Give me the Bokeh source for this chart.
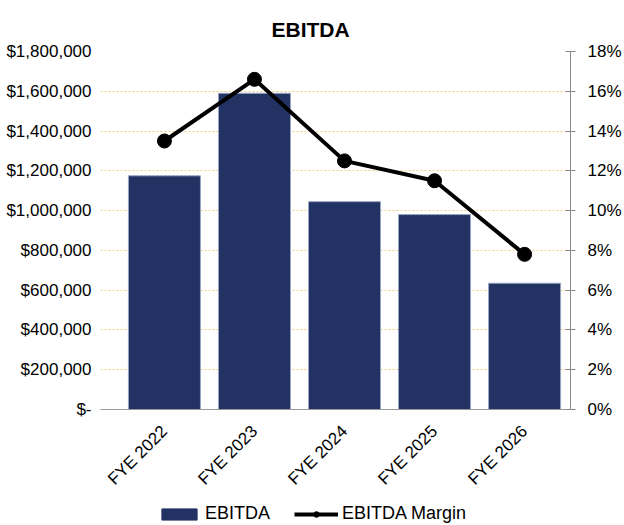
import math
from bokeh.plotting import figure
from bokeh.layouts import column
from bokeh.models import (Range1d, LinearAxis, FixedTicker, NumeralTickFormatter,
                          Legend, LegendItem, ColumnDataSource)
from bokeh.embed import file_html
from bokeh.resources import INLINE

categories = ["FYE 2022", "FYE 2023", "FYE 2024", "FYE 2025", "FYE 2026"]
ebitda = [1175000, 1590000, 1045000, 980000, 635000]
margin = [0.135, 0.166, 0.125, 0.115, 0.078]
left_ticks = [0, 200000, 400000, 600000, 800000, 1000000, 1200000, 1400000, 1600000, 1800000]
right_ticks = [0, 0.02, 0.04, 0.06, 0.08, 0.10, 0.12, 0.14, 0.16, 0.18]

FONT = "Liberation Sans"
BAR_FILL = "#213263"
BAR_LINE = "#9AA6C4"
idx = list(range(len(categories)))
src = ColumnDataSource(dict(x=idx, ebitda=ebitda, margin=margin))

p = figure(width=624, height=500, output_backend="svg", toolbar_location=None,
           x_range=Range1d(-0.71, 4.51), y_range=Range1d(0, 1800000),
           min_border_left=100, min_border_right=53, min_border_top=51, min_border_bottom=91)
p.outline_line_color = None
p.background_fill_color = "white"
p.border_fill_color = "white"
p.extra_y_ranges = {"pct": Range1d(0, 0.18)}

p.title.text = "EBITDA"
p.title.text_font = FONT
p.title.text_font_size = "21px"
p.title.text_font_style = "bold"
p.title.text_color = "black"
p.title.align = "left"
p.title.offset = 171
p.title.standoff = 21

p.vbar(x="x", top="ebitda", width=0.8, source=src,
       fill_color=BAR_FILL, line_color=BAR_LINE, line_width=1)
p.line(x="x", y="margin", source=src, y_range_name="pct",
       line_color="black", line_width=4)
p.scatter(x="x", y="margin", source=src, y_range_name="pct",
          size=14, fill_color="black", line_color="black")

# axes
p.xaxis.ticker = FixedTicker(ticks=idx)
p.xaxis.major_label_overrides = {i: c for i, c in zip(idx, categories)}
p.xaxis.major_label_orientation = math.pi / 4
p.xaxis.major_label_text_font = FONT
p.xaxis.major_label_text_font_size = "17px"
p.xaxis.major_label_text_color = "black"
p.xaxis.major_tick_line_color = None
p.xaxis.minor_tick_line_color = None
p.xaxis.axis_line_color = "#999999"
p.xaxis.major_label_standoff = 13

p.yaxis.ticker = FixedTicker(ticks=left_ticks)
p.yaxis.formatter = NumeralTickFormatter(format="$0,0")
p.yaxis.major_label_overrides = {0: "$-"}
p.yaxis.major_label_text_font = FONT
p.yaxis.major_label_text_font_size = "17px"
p.yaxis.major_label_text_color = "black"
p.yaxis.axis_line_color = None
p.yaxis.major_tick_line_color = None
p.yaxis.minor_tick_line_color = None
p.yaxis.major_label_standoff = 3

ra = LinearAxis(y_range_name="pct", ticker=FixedTicker(ticks=right_ticks),
                formatter=NumeralTickFormatter(format="0%"))
ra.major_label_text_font = FONT
ra.major_label_text_font_size = "17px"
ra.major_label_text_color = "black"
ra.axis_line_color = "#888888"
ra.major_tick_line_color = "#888888"
ra.major_tick_in = 5
ra.major_tick_out = 5
ra.minor_tick_line_color = None
ra.major_label_standoff = 12
p.add_layout(ra, "right")

p.xgrid.grid_line_color = None
p.ygrid.ticker = FixedTicker(ticks=left_ticks[1:])
p.ygrid.grid_line_color = "#F5CC7E"
p.ygrid.grid_line_dash = "2 2"
p.ygrid.grid_line_width = 1

# legend strip: same series, drawn outside its visible range so only the legend shows
lg = figure(width=624, height=25, output_backend="svg", toolbar_location=None,
            x_range=Range1d(-0.71, 4.51), y_range=Range1d(5e6, 6e6),
            x_axis_type=None, y_axis_type=None,
            min_border_left=0, min_border_right=0, min_border_top=0, min_border_bottom=0)
lg.outline_line_color = None
lg.xgrid.grid_line_color = None
lg.ygrid.grid_line_color = None
lb = lg.vbar(x="x", top="ebitda", width=0.8, source=src,
             fill_color=BAR_FILL, line_color=BAR_FILL, line_width=1)
ll = lg.line(x="x", y="margin", source=src, line_color="black", line_width=4)
ls = lg.scatter(x="x", y="margin", source=src, size=8, fill_color="black", line_color="black")

legend = Legend(items=[LegendItem(label="EBITDA", renderers=[lb]),
                       LegendItem(label="EBITDA Margin", renderers=[ll, ls])],
                orientation="horizontal", location=(57, 1),
                border_line_color=None, background_fill_alpha=0,
                label_text_font=FONT, label_text_font_size="18px",
                label_text_color="black",
                glyph_width=44, glyph_height=14, spacing=24, padding=0, margin=0,
                label_standoff=4)
lg.add_layout(legend, "center")

layout = column(p, lg, spacing=0)
open("out.html", "w").write(file_html(layout, INLINE))
